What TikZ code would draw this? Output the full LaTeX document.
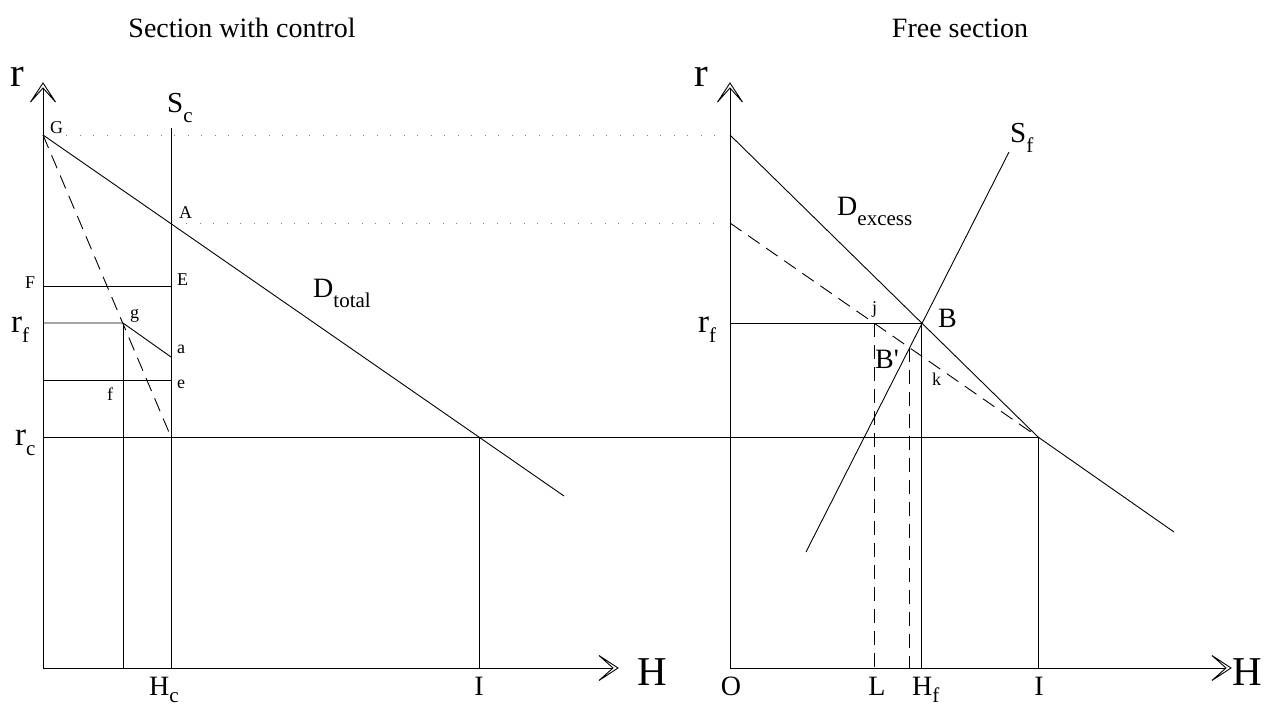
\documentclass[tikz,border=0pt]{standalone}
\usepackage{fontspec}
\setmainfont{Liberation Serif}
\newcommand\fs[1]{\fontsize{#1}{#1}\selectfont}
\newcommand\lsub[2][10pt]{\raisebox{-#1}{\fs{21}#2}}
\begin{document}
\begin{tikzpicture}[x=1pt,y=-1pt,
  ln/.style={line width=0.9pt},
  chev/.style={line width=0.9pt,line join=miter},
  dsh/.style={ln,dash pattern=on 14pt off 8pt},
  dot/.style={line width=1pt,gray,dash pattern=on 1pt off 12.5pt},
  lbl/.style={inner sep=0pt,anchor=base west},
  small/.style={lbl,font=\fs{18}},
  mid/.style={lbl,font=\fs{28}},
  bigl/.style={lbl,font=\fs{41}},
  ttl/.style={inner sep=0pt,anchor=base,font=\fs{28}},
  bot/.style={inner sep=0pt,anchor=base,font=\fs{28}}]
\useasboundingbox (0,0) rectangle (1267,709);
% ---------- coordinates: left panel ----------
\coordinate (O1) at (43,668);
\coordinate (L top) at (43,83);
\coordinate (L right) at (618,668);
\coordinate (G) at (43,135);
\coordinate (Sc top) at (171,128);
\coordinate (Hc) at (171,668);
\coordinate (A) at (171,223.7);
\coordinate (Dt end) at (564,496);
\coordinate (Sc rc) at (171,437);
\coordinate (rc1) at (43,437);
\coordinate (I1) at (479,437);
\coordinate (I1b) at (479,668);
\coordinate (F) at (43,286);
\coordinate (E) at (171,286);
\coordinate (rf1) at (43,323);
\coordinate (g) at (123,323);
\coordinate (a) at (171,357);
\coordinate (gb) at (123,668);
\coordinate (e0) at (43,380);
\coordinate (e) at (171,380);
% ---------- coordinates: right panel ----------
\coordinate (O2) at (730,668);
\coordinate (R top) at (730,83);
\coordinate (R right) at (1231,668);
\coordinate (Dx top) at (730,135);
\coordinate (Dd top) at (730,223);
\coordinate (B) at (921.7,323);
\coordinate (I2) at (1038,437);
\coordinate (I2b) at (1038,668);
\coordinate (Dx end) at (1174,532);
\coordinate (Sf lo) at (806,552);
\coordinate (Sf hi) at (1009,152);
\coordinate (rf2) at (730,323);
\coordinate (Hf) at (921.7,668);
\coordinate (Bp) at (909.6,347.7);
\coordinate (Bpb) at (909.6,668);
\coordinate (j) at (874,323);
\coordinate (jb) at (874,668);
\coordinate (dotG0) at (66,135);
\coordinate (dotG1) at (722,135);
\coordinate (dotA0) at (186,223);
\coordinate (dotA1) at (722,223);
% ---------- dotted guides ----------
\draw[dot] (dotG0) -- (dotG1);
\draw[dot] (dotA0) -- (dotA1);
% ---------- axes with open chevron heads ----------
\draw[ln] (O1) -- ([yshift=-5pt]L top);
\draw[chev] ([shift={(-12.5,19)}]L top) -- (L top) -- ([shift={(12.5,19)}]L top) -- ([yshift=-5pt]L top) -- cycle;
\draw[ln] (O1) -- ([xshift=-5pt]L right);
\draw[chev] ([shift={(-19,-12.5)}]L right) -- (L right) -- ([shift={(-19,12.5)}]L right) -- ([xshift=-5pt]L right) -- cycle;
\draw[ln] (O2) -- ([yshift=-5pt]R top);
\draw[chev] ([shift={(-12.5,19)}]R top) -- (R top) -- ([shift={(12.5,19)}]R top) -- ([yshift=-5pt]R top) -- cycle;
\draw[ln] (O2) -- ([xshift=-5pt]R right);
\draw[chev] ([shift={(-19,-12.5)}]R right) -- (R right) -- ([shift={(-19,12.5)}]R right) -- ([xshift=-5pt]R right) -- cycle;
% ---------- left panel ----------
\draw[ln] (Sc top) -- (Hc);
\draw[ln] (G) -- (A) -- (Dt end);
\draw[dsh] (G) -- (Sc rc);
\draw[ln] (rc1) -- (I2);
\draw[ln] (I1) -- (I1b);
\draw[ln] (F) -- (E);
\draw[ln] (rf1) -- (g) -- (a);
\draw[ln] (g) -- (gb);
\draw[ln] (e0) -- (e);
% ---------- right panel ----------
\draw[ln] (Dx top) -- (B) -- (I2) -- (Dx end);
\draw[dsh] (Dd top) -- (I2);
\draw[ln] (Sf lo) -- (Sf hi);
\draw[ln] (rf2) -- (B);
\draw[ln] (B) -- (Hf);
\draw[ln] (I2) -- (I2b);
\draw[dsh] (Bp) -- (Bpb);
\draw[dsh] (j) -- (jb);
% ---------- titles ----------
\node[ttl] (t1) at (242,38) {Section with control};
\node[ttl] (t2) at (960,38) {Free section};
% ---------- left labels ----------
\node[bigl] (lr) at (10,87) {r};
\node[bigl] (lH) at (637,685) {H};
\node[lbl,font=\fs{29}] (lSc) at (167,112) {S\lsub{c}};
\node[small] (lG) at (50,133) {G};
\node[small] (lA) at (179,218) {A};
\node[small] (lF) at (25,288) {F};
\node[small] (lE) at (177,285) {E};
\node[small] (lg) at (130,318) {g};
\node[small] (la) at (177,353) {a};
\node[small] (le) at (177,388) {e};
\node[small] (lf) at (107,400) {f};
\node[lbl,font=\fs{33}] (lrf) at (11,332) {r\lsub{f}};
\node[lbl,font=\fs{33}] (lrc) at (15,445) {r\lsub{c}};
\node[mid] (lDt) at (313,297) {D\lsub{total}};
\node[bot] (lHc) at (164,695) {H\lsub[7pt]{c}};
\node[bot] (lI1) at (479,695) {I};
% ---------- right labels ----------
\node[bigl] (rr) at (694,87) {r};
\node[bigl] (rH) at (1232,685) {H};
\node[mid] (lDx) at (837,215) {D\lsub{excess}};
\node[lbl,font=\fs{29}] (lSf) at (1010,142) {S\lsub{f}};
\node[mid] (lB) at (938,327) {B};
\node[mid] (lBp) at (875,368) {B\textquotesingle};
\node[small] (lj) at (872,313) {j};
\node[small] (lk) at (932,385) {k};
\node[lbl,font=\fs{33}] (rrf) at (698,332) {r\lsub{f}};
\node[bot] (lO) at (731,695) {O};
\node[bot] (lL) at (877,695) {L};
\node[bot,anchor=base west] (lHf) at (912,695) {H\lsub[7pt]{f}};
\node[bot] (lI2) at (1039,695) {I};
\end{tikzpicture}
\end{document}
